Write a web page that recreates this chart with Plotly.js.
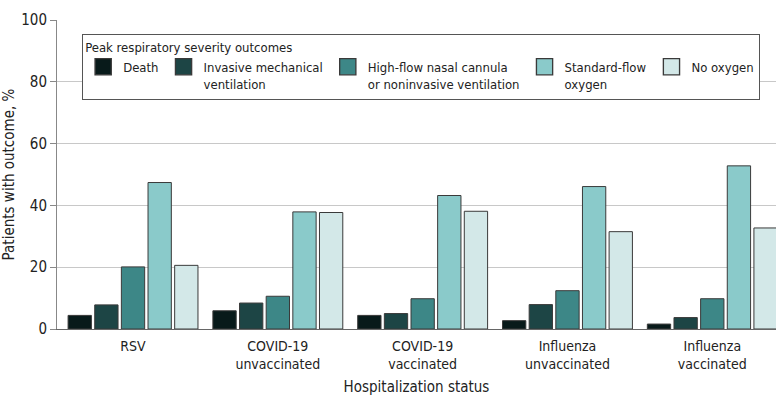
<!DOCTYPE html>
<html>
<head>
<meta charset="utf-8">
<script src="https://cdn.plot.ly/plotly-3.0.1.min.js"></script>
<style>html,body{margin:0;padding:0;background:#fff;}#chart{width:780px;height:400px;}</style>
</head>
<body>
<div id="chart"></div>
<script>
const categories = ["RSV", "COVID-19<br>unvaccinated", "COVID-19<br>vaccinated", "Influenza<br>unvaccinated", "Influenza<br>vaccinated"];
const seriesNames = ["Death", "Invasive mechanical<br>ventilation", "High-flow nasal cannula<br>or noninvasive ventilation", "Standard-flow<br>oxygen", "No oxygen"];
const death = [4.4, 5.9, 4.4, 2.7, 1.6];
const invasiveVent = [7.8, 8.4, 5.0, 7.9, 3.7];
const highFlow = [20.1, 10.6, 9.8, 12.4, 9.8];
const standardFlow = [47.4, 37.9, 43.2, 46.1, 52.8];
const noOxygen = [20.6, 37.7, 38.1, 31.5, 32.7];
const yTicks = [0, 20, 40, 60, 80, 100];

const colors = ["#081a1a", "#1d4545", "#3d8787", "#8acaca", "#d3e8e8"];
const values = [death, invasiveVent, highFlow, standardFlow, noOxygen];
const FONT = "'DejaVu Sans Condensed', 'Liberation Sans', sans-serif";

const traces = values.map((v, i) => ({
  type: 'bar',
  name: seriesNames[i],
  x: categories,
  y: v,
  marker: {color: colors[i], line: {color: '#3a3a3a', width: 1}},
  hoverinfo: 'y+name'
}));

const layout = {
  width: 780, height: 400,
  margin: {l: 57, r: 4, t: 20, b: 71},
  paper_bgcolor: '#fff', plot_bgcolor: '#fff',
  font: {family: FONT, size: 13, color: '#222'},
  barmode: 'group',
  bargap: 0.08,
  bargroupgap: 0.125,
  showlegend: true,
  legend: {
    orientation: 'h',
    x: 0.035, y: 0.955, xanchor: 'left', yanchor: 'top',
    bgcolor: '#fff', bordercolor: '#555', borderwidth: 1,
    title: {text: 'Peak respiratory severity outcomes', side: 'top', font: {size: 13, color: '#222'}},
    font: {size: 13, color: '#222'},
    valign: 'top',
    itemwidth: 30,
    traceorder: 'normal'
  },
  xaxis: {
    type: 'category',
    range: [-0.525, 4.44],
    showline: true, linecolor: '#666', linewidth: 1,
    ticks: '', showgrid: false,
    ticklabelstandoff: 4,
    tickfont: {size: 14, color: '#222'},
    title: {text: 'Hospitalization status', font: {size: 15, color: '#222'}, standoff: 10},
    fixedrange: true
  },
  yaxis: {
    range: [0, 100],
    tickvals: yTicks,
    ticktext: yTicks.map(String),
    showline: true, linecolor: '#888', linewidth: 1,
    ticks: 'outside', ticklen: 6, tickcolor: '#888',
    showgrid: true, gridcolor: '#c8c8c8', gridwidth: 1,
    zeroline: false,
    tickfont: {size: 15, color: '#222'},
    title: {text: 'Patients with outcome, %', font: {size: 15, color: '#222'}, standoff: 8},
    fixedrange: true
  }
};

Plotly.newPlot('chart', traces, layout, {displayModeBar: false, staticPlot: true}).then(gd => {
  gd.querySelectorAll('.legend .legendpoints path').forEach(p => {
    const t = p.getAttribute('transform') || '';
    p.setAttribute('transform', t + ' scale(1.35)');
  });
});
</script>
</body>
</html>
